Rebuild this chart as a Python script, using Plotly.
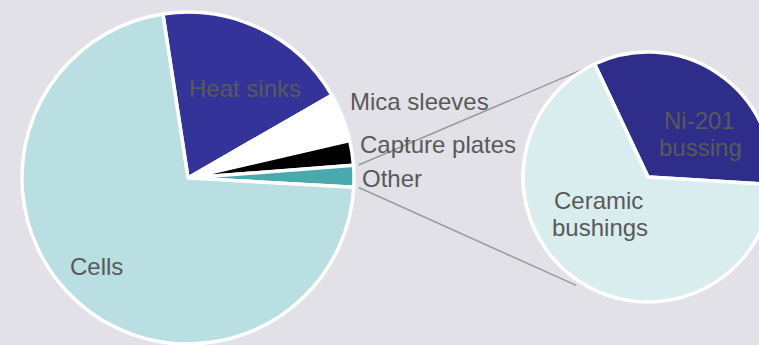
import math
import plotly.graph_objects as go

# ---- data ----
main_labels = ["Heat sinks", "Mica sleeves", "Capture plates", "Other", "Cells"]
main_values = [19.1, 4.7, 2.4, 2.1, 71.7]
main_colors = ["#333399", "#FFFFFF", "#000000", "#4AA9AD", "#B9DFE2"]

sub_labels = ["Ni-201 bussing", "Ceramic bushings"]
sub_values = [33, 67]
sub_colors = ["#2E2E8A", "#DAEDEE"]

# ---- layout geometry (pixels) ----
W, H = 780, 345
CX1, CY1, R1 = 188, 178, 166
CX2, CY2, R2 = 648, 177, 125
ROT1 = -8.7
ROT2 = -25.3

def px(x):
    return x / W

def py(y):
    return (H - y) / H

fig = go.Figure()
fig.add_trace(go.Pie(
    labels=main_labels, values=main_values, sort=False, direction="clockwise",
    rotation=ROT1, textinfo="none", hoverinfo="label+percent",
    marker=dict(colors=main_colors, line=dict(color="white", width=3.5)),
    domain=dict(x=[px(CX1 - R1), px(CX1 + R1)], y=[py(CY1 + R1), py(CY1 - R1)]),
    showlegend=False,
))
fig.add_trace(go.Pie(
    labels=sub_labels, values=sub_values, sort=False, direction="clockwise",
    rotation=ROT2, textinfo="none", hoverinfo="label+percent",
    marker=dict(colors=sub_colors, line=dict(color="white", width=3.5)),
    domain=dict(x=[px(CX2 - R2), px(CX2 + R2)], y=[py(CY2 + R2), py(CY2 - R2)]),
    showlegend=False,
))

# connector lines from the "Other" slice to the secondary pie
tot = sum(main_values)
start = ROT1 + 360 * sum(main_values[:3]) / tot
end = start + 360 * main_values[3] / tot
def pt(cx, cy, r, ang):
    a = math.radians(ang)
    return cx + r * math.sin(a), cy - r * math.cos(a)
s1 = pt(CX1, CY1, R1 + 5, start)
s2 = pt(CX1, CY1, R1 + 5, end)
e1 = pt(CX2, CY2, R2, 332)
e2 = pt(CX2, CY2, R2 + 5, 213.5)
for a, b in [(s1, e1), (s2, e2)]:
    fig.add_shape(type="line", xref="paper", yref="paper",
                  x0=px(a[0]), y0=py(a[1]), x1=px(b[0]), y1=py(b[1]),
                  line=dict(color="#9A9A9A", width=1.5), layer="below")

TXT = "#595959"
FS = 24
labels_pos = [
    ("Heat sinks", 245, 88, "center"),
    ("Mica sleeves", 348, 102, "left"),
    ("Capture plates", 358, 144, "left"),
    ("Other", 360, 178, "left"),
    ("Cells", 96, 266, "center"),
    ("Ni-201", 699, 120, "center"),
    ("bussing", 700, 147, "center"),
    ("Ceramic", 598, 200, "center"),
    ("bushings", 600, 227, "center"),
]
for t, x, y, anc in labels_pos:
    fig.add_annotation(text=t, x=px(x), y=py(y), xref="paper", yref="paper",
                       xanchor=anc, yanchor="middle", showarrow=False,
                       font=dict(family="Liberation Sans, Arial, sans-serif", size=FS, color=TXT))

fig.update_layout(
    width=W, height=H, margin=dict(l=0, r=0, t=0, b=0),
    paper_bgcolor="#E2E1E7", plot_bgcolor="#E2E1E7",
)

fig.write_html("out.html", config={"displayModeBar": False},
               post_script="document.documentElement.style.overflow='hidden';document.body.style.overflow='hidden';document.body.style.margin='0';")
